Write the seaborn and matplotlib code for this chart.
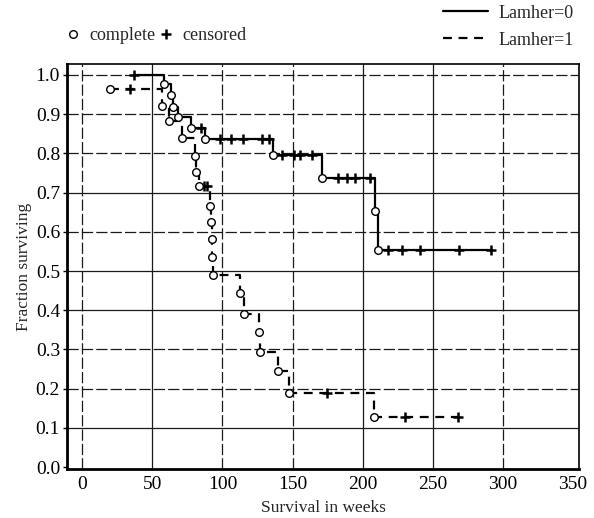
import matplotlib
matplotlib.use("Agg")
import numpy as np
import pandas as pd
import seaborn as sns
import matplotlib.pyplot as plt
from matplotlib.lines import Line2D

# ---------------- data ----------------
# Lamher=0 : Kaplan-Meier step curve (time, survival after the step)
step0_t = [37, 58, 63.5, 64.5, 68.5, 77.8, 87.8, 136, 171, 208.8, 211.2, 291.5]
step0_s = [1.0, 0.978, 0.948, 0.918, 0.892, 0.864, 0.836, 0.796, 0.738, 0.652, 0.554, 0.554]
# Lamher=0 : complete (event) points
comp0_t = [58, 63.5, 64.5, 68.5, 77.8, 87.8, 136, 171, 208.8, 211.2]
comp0_s = [0.978, 0.948, 0.918, 0.892, 0.864, 0.836, 0.796, 0.738, 0.652, 0.554]
# Lamher=0 : censored points
cens0_t = [37, 85, 98, 106, 114.5, 128, 133.3, 142.8, 151, 155.2, 163.6,
           182.6, 188.6, 194.5, 205.2, 217.8, 228.3, 241, 269, 291.4]
cens0_s = [1.0, 0.864, 0.836, 0.836, 0.836, 0.836, 0.836, 0.796, 0.796, 0.796, 0.796,
           0.738, 0.738, 0.738, 0.738, 0.554, 0.554, 0.554, 0.554, 0.554]

# Lamher=1
step1_t = [19.5, 57, 62, 71.4, 80.7, 81.4, 83.3, 91, 91.6, 92.2, 92.8, 93.4,
           112.6, 115, 126, 126.5, 139.3, 147.4, 208, 268]
step1_s = [0.963, 0.921, 0.883, 0.839, 0.794, 0.752, 0.717, 0.665, 0.624, 0.581,
           0.535, 0.490, 0.444, 0.391, 0.344, 0.293, 0.246, 0.19, 0.127, 0.127]
comp1_t = [19.5, 57, 62, 71.4, 80.7, 81.4, 83.3, 91, 91.6, 92.2, 92.8, 93.4,
           112.6, 115, 126, 126.5, 139.3, 147.4, 208]
comp1_s = [0.963, 0.921, 0.883, 0.839, 0.794, 0.752, 0.717, 0.665, 0.624, 0.581,
           0.535, 0.490, 0.444, 0.391, 0.344, 0.293, 0.246, 0.19, 0.127]
cens1_t = [34, 86.6, 88.6, 174.3, 230, 268]
cens1_s = [0.963, 0.717, 0.717, 0.19, 0.127, 0.127]

x_ticks = [0, 50, 100, 150, 200, 250, 300, 350]
y_ticks = [0.0, 0.1, 0.2, 0.3, 0.4, 0.5, 0.6, 0.7, 0.8, 0.9, 1.0]
x_grid_dashed = {0: True, 50: False, 100: True, 150: True, 200: False, 250: False, 300: True}
y_grid_dashed = {0.1: False, 0.2: True, 0.3: True, 0.4: False, 0.5: False,
                 0.6: True, 0.7: False, 0.8: True, 0.9: True, 1.0: True}
series_labels = ["Lamher=0", "Lamher=1"]

# ---------------- styling ----------------
sns.set_style("white")
plt.rcParams["font.family"] = ["Liberation Serif", "DejaVu Serif"]
plt.rcParams["mathtext.fontset"] = "stix"

fig = plt.figure(figsize=(5.94, 5.18), dpi=100)
ax = fig.add_axes([67 / 594, 1 - 469 / 518, (579 - 67) / 594, (469 - 64) / 518])

GRID_DASH = (0, (9, 2.5))
CURVE_DASH = (0, (4, 3))

# grid lines
for xv, dashed in x_grid_dashed.items():
    ax.axvline(xv, color="#1a1a1a", lw=0.9, ls=GRID_DASH if dashed else "-", zorder=1)
for yv, dashed in y_grid_dashed.items():
    ax.axhline(yv, color="#1a1a1a", lw=0.9, ls=GRID_DASH if dashed else "-", zorder=1)

df0 = pd.DataFrame({"t": step0_t, "s": step0_s})
df1 = pd.DataFrame({"t": step1_t, "s": step1_s})
sns.lineplot(data=df0, x="t", y="s", ax=ax, color="black", lw=1.6,
             drawstyle="steps-post", estimator=None, sort=False, zorder=3)
sns.lineplot(data=df1, x="t", y="s", ax=ax, color="black", lw=1.6,
             drawstyle="steps-post", estimator=None, sort=False, zorder=3,
             linestyle=CURVE_DASH)

for ct, cs in [(cens0_t, cens0_s), (cens1_t, cens1_s)]:
    sns.scatterplot(x=ct, y=cs, ax=ax, marker="+", s=55, color="black",
                    linewidth=1.8, zorder=4)
for ct, cs in [(comp0_t, comp0_s), (comp1_t, comp1_s)]:
    sns.scatterplot(x=ct, y=cs, ax=ax, marker="o", s=30, facecolor="white",
                    edgecolor="black", linewidth=1.0, zorder=5)

ax.set_xlim(-11, 354.5)
ax.set_ylim(-0.005, 1.028)
ax.set_xticks(x_ticks)
ax.set_xticklabels([str(v) for v in x_ticks])
ax.set_yticks(y_ticks)
ax.set_yticklabels([f"{v:.1f}" for v in y_ticks])
ax.tick_params(axis="x", length=0, pad=5, labelsize=14, colors="black")
ax.tick_params(axis="y", length=3, width=1, pad=2, labelsize=14, colors="black", left=True)
ax.set_xlabel("Survival in weeks", fontsize=12.5, labelpad=5)
ax.set_ylabel("Fraction surviving", fontsize=12.5, labelpad=3)

for side in ["left", "bottom"]:
    ax.spines[side].set_linewidth(2.0)
for side in ["top", "right"]:
    ax.spines[side].set_linewidth(1.2)
for sp in ax.spines.values():
    sp.set_color("black")
    sp.set_visible(True)

# legends
h_lines = [Line2D([], [], color="black", lw=1.6),
           Line2D([], [], color="black", lw=1.6, ls=CURVE_DASH)]
leg1 = fig.legend(h_lines, series_labels, loc="upper right",
                  bbox_to_anchor=(578 / 594, 1 - 1 / 518), frameon=False,
                  fontsize=13, handlelength=2.5, handletextpad=0.6,
                  labelspacing=0.55, borderaxespad=0, borderpad=0.2)
h_marks = [Line2D([], [], color="black", marker="o", ls="", markersize=5.5,
                  markerfacecolor="white", markeredgewidth=1.0),
           Line2D([], [], color="black", marker="+", ls="", markersize=7.5,
                  markeredgewidth=1.8)]
leg2 = fig.legend(h_marks, ["complete", "censored"], loc="center left",
                  bbox_to_anchor=(66 / 594, 1 - 36 / 518), frameon=False,
                  fontsize=13, ncol=2, handlelength=0.8, handletextpad=0.5,
                  columnspacing=0.2, borderaxespad=0, borderpad=0)

fig.savefig("out.png", dpi=100)
